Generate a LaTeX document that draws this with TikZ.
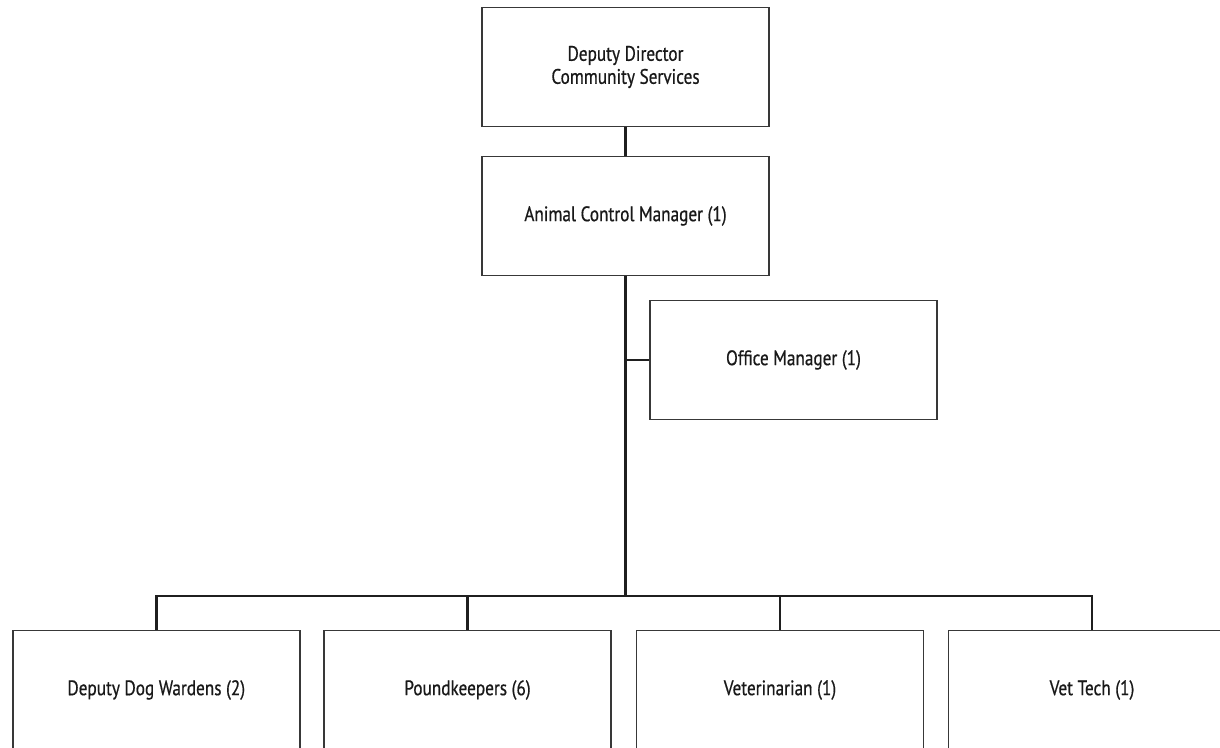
\documentclass[tikz,border=0pt]{standalone}
\usepackage{fontspec}
\setmainfont[FakeStretch=0.82,FakeBold=0.6]{PT Sans}
\begin{document}
\begin{tikzpicture}[x=1pt,y=-1pt,
  post/.style={draw=black!78, line width=1.4pt, fill=white, rectangle,
    minimum width=287pt, minimum height=119pt, inner sep=0pt,
    font=\fontsize{21}{23}\selectfont, align=center, text=black!90},
  link/.style={draw=black!88, line width=2.8pt}]
\useasboundingbox[fill=white] (0,0) rectangle (1220,747);

% upper chain of command
\node[post] (dir) at (625.5,67) {Deputy Director\\Community Services};
\node[post] (mgr) at (625.5,216) {Animal Control Manager (1)};
\node[post] (off) at (793.5,360) {Office Manager (1)};

% front-line staff
\node[post] (dog) at (156.3,690) {Deputy Dog Wardens (2)};
\node[post] (pnd) at (467.5,690) {Poundkeepers (6)};
\node[post] (vet) at (780,690) {Veterinarian (1)};
\node[post] (tec) at (1092,690) {Vet Tech (1)};

\coordinate (bus) at (625.5,596);

% reporting lines
\draw[link] (dir.south) -- (mgr.north);
\draw[link] (mgr.south) -- (bus);
\draw[link] (off.west) -- (off.west -| mgr.south);
\draw[link] (dog.north) -- (dog.north |- bus) -- (tec.north |- bus) -- (tec.north);
\draw[link] (pnd.north) -- (pnd.north |- bus);
\draw[link] (vet.north) -- (vet.north |- bus);
\end{tikzpicture}
\end{document}
